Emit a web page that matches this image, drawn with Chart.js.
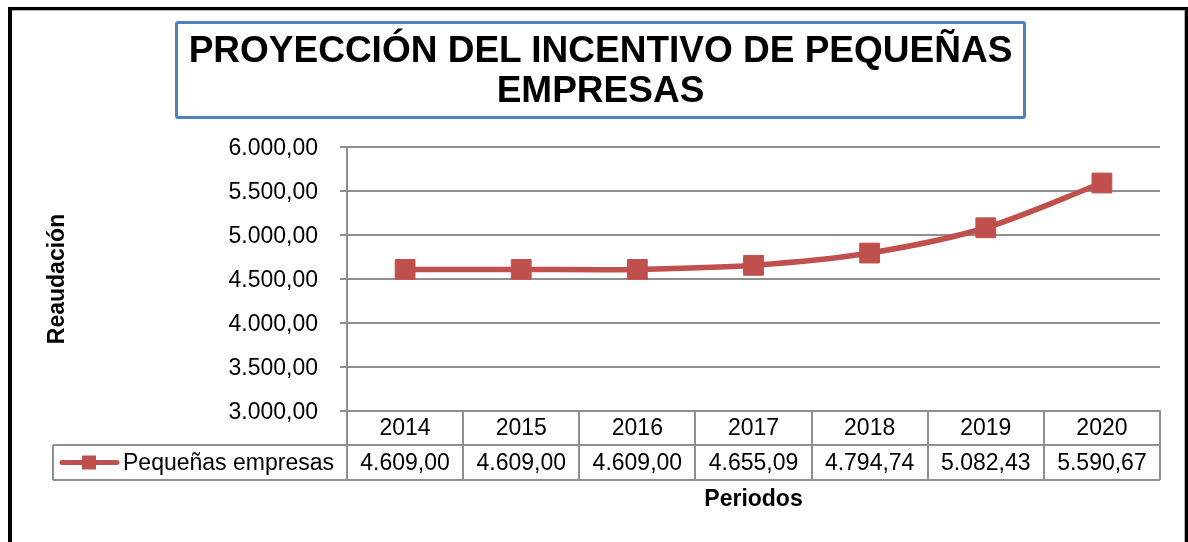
<!DOCTYPE html>
<html lang="es">
<head>
  <meta charset="UTF-8">
  <title>Proyección del incentivo de pequeñas empresas</title>
  <script src="https://cdn.jsdelivr.net/npm/chart.js"></script>
  <style>
    html, body { margin: 0; padding: 0; background: #fff; }
    #wrap { position: relative; width: 1188px; height: 542px; overflow: hidden; font-family: "Liberation Sans", Arial, sans-serif; }
    #frame { position: absolute; left: 8px; top: 7px; width: 1180px; height: 600px; box-sizing: border-box;
             border: 3px solid #000; border-left-width: 4px; border-bottom: none; box-shadow: inset -1px 1px 0 #b0b0b0; }
    #titleBox { position: absolute; left: 175px; top: 21px; width: 851px; height: 98px; box-sizing: border-box;
                border: 3px solid #4f81bd; border-radius: 3px; padding-top: 6px; text-align: center;
                font-weight: bold; font-size: 37px; line-height: 40px; color: #000; }
    canvas { position: absolute; left: 0; top: 0; }
  </style>
</head>
<body>
  <div id="wrap">
    <div id="frame"></div>
    <canvas id="incentivoChart" width="1188" height="542"></canvas>
    <div id="titleBox">PROYECCIÓN DEL INCENTIVO DE PEQUEÑAS<br>EMPRESAS</div>
  </div>

  <script>
    // data
    const periodos = ['2014', '2015', '2016', '2017', '2018', '2019', '2020'];
    const pequenasEmpresas = [4609.00, 4609.00, 4609.00, 4655.09, 4794.74, 5082.43, 5590.67];
    const yTickValues = [3000, 3500, 4000, 4500, 5000, 5500, 6000];

    const FONT = '"Liberation Sans", Arial, sans-serif';
    const RED = '#c0504d';
    const GRID = '#8f8f8f';

    // 4609.5 -> "4.609,50"
    function fmt(v) {
      const parts = v.toFixed(2).split('.');
      const ent = parts[0].replace(/\B(?=(\d{3})+(?!\d))/g, '.');
      return ent + ',' + parts[1];
    }

    // draws the data table under the plot, using the x scale for the columns
    const dataTable = {
      id: 'dataTable',
      afterDraw(chart) {
        const ctx = chart.ctx;
        const x = chart.scales.x;
        const area = chart.chartArea;
        const n = chart.data.labels.length;
        const step = x.getPixelForValue(1) - x.getPixelForValue(0);
        const first = x.getPixelForValue(0) - step / 2;
        const last = first + step * n;
        const top = area.bottom;
        const mid = top + 34;
        const bot = top + 69;
        const legendLeft = 53;

        ctx.save();
        ctx.strokeStyle = GRID;
        ctx.lineWidth = 2;
        ctx.beginPath();
        for (let i = 0; i <= n; i++) {
          const bx = Math.round(first + i * step);
          ctx.moveTo(bx, i === 0 ? area.bottom : top);
          ctx.lineTo(bx, bot);
        }
        ctx.moveTo(legendLeft, mid); ctx.lineTo(last, mid);
        ctx.moveTo(legendLeft, bot); ctx.lineTo(last, bot);
        ctx.moveTo(legendLeft, mid); ctx.lineTo(legendLeft, bot);
        ctx.stroke();

        ctx.fillStyle = '#000';
        ctx.font = '23px ' + FONT;
        ctx.textAlign = 'center';
        ctx.textBaseline = 'middle';
        const ds = chart.data.datasets[0];
        for (let i = 0; i < n; i++) {
          const cx = x.getPixelForValue(i);
          ctx.fillText(chart.data.labels[i], cx, (top + mid) / 2 + 1);
          ctx.fillText(fmt(ds.data[i]), cx, (mid + bot) / 2 + 1);
        }

        // legend key
        const ly = (mid + bot) / 2;
        ctx.strokeStyle = RED;
        ctx.lineWidth = 5;
        ctx.lineCap = 'round';
        ctx.beginPath();
        ctx.moveTo(legendLeft + 9, ly);
        ctx.lineTo(legendLeft + 64, ly);
        ctx.stroke();
        ctx.fillStyle = RED;
        ctx.fillRect(legendLeft + 29, ly - 7, 14, 14);
        ctx.fillStyle = '#000';
        ctx.textAlign = 'left';
        ctx.fillText(ds.label, legendLeft + 70, ly + 1);
        ctx.restore();
      }
    };

    const ctx = document.getElementById('incentivoChart').getContext('2d');
    new Chart(ctx, {
      type: 'line',
      data: {
        labels: periodos,
        datasets: [{
          label: 'Pequeñas empresas',
          data: pequenasEmpresas,
          borderColor: RED,
          backgroundColor: RED,
          borderWidth: 5.5,
          tension: 0.3,
          pointStyle: 'rect',
          pointRadius: 14,
          pointBorderWidth: 1,
          pointBorderColor: RED,
          pointBackgroundColor: RED
        }]
      },
      options: {
        responsive: false,
        animation: false,
        layout: { padding: { left: 0, top: 147, right: 28, bottom: 0 } },
        plugins: {
          legend: { display: false },
          title: { display: false },
          tooltip: { enabled: false }
        },
        scales: {
          x: {
            offset: true,
            grid: { display: false },
            border: { display: true, color: GRID, width: 2 },
            ticks: { display: false },
            title: {
              display: true,
              text: 'Periodos',
              color: '#000',
              font: { family: FONT, size: 23, weight: 'bold' },
              padding: { top: 0, bottom: 29 }
            },
            afterFit(scale) { scale.height = 131; }
          },
          y: {
            min: 3000,
            max: 6000,
            afterBuildTicks(scale) { scale.ticks = yTickValues.map(v => ({ value: v })); },
            grid: { color: GRID, lineWidth: 2, tickLength: 7 },
            border: { display: true, color: GRID, width: 2 },
            ticks: {
              color: '#000',
              padding: 22,
              labelOffset: 2,
              font: { family: FONT, size: 23 },
              callback: v => fmt(v)
            },
            title: {
              display: true,
              text: 'Reaudación',
              color: '#000',
              font: { family: FONT, size: 23, weight: 'bold' },
              padding: { top: 44, bottom: 0 }
            },
            afterFit(scale) { scale.width = 347; }
          }
        }
      },
      plugins: [dataTable]
    });
  </script>
</body>
</html>
